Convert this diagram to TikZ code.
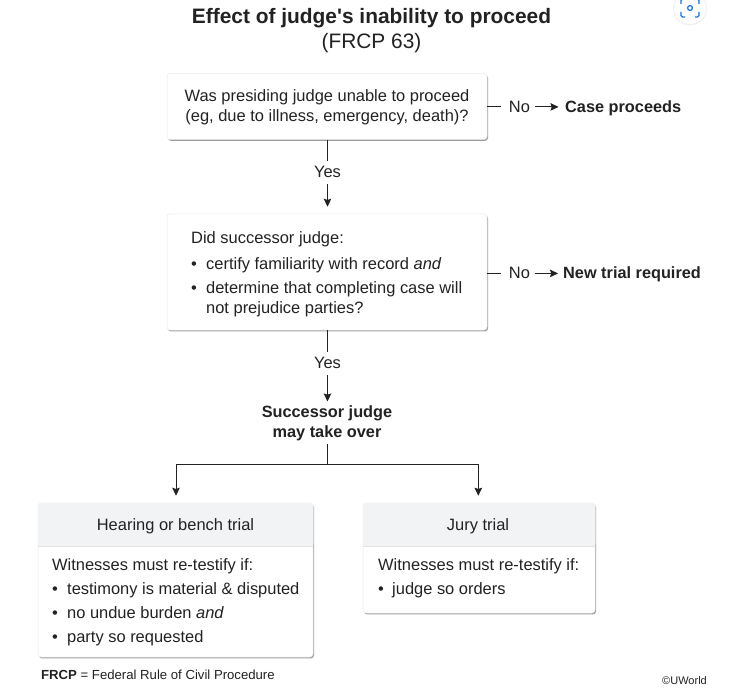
\documentclass[tikz,border=0pt]{standalone}
\usepackage{fontspec}
\setmainfont{Liberation Sans}
\usetikzlibrary{arrows.meta,shadows}
\definecolor{ink}{HTML}{222222}
\definecolor{headfill}{HTML}{F2F3F4}
\definecolor{headrule}{HTML}{E1E3E5}
\definecolor{scanblue}{HTML}{1A73E8}
\tikzset{
  x=1pt,y=-1pt,
  card/.style={draw=black!8,line width=.5pt,fill=white,rounded corners=3pt,inner sep=0pt,
    drop shadow={shadow xshift=1pt,shadow yshift=-1.4pt,fill=black,opacity=.38}},
  txt/.style={inner sep=0pt,text=ink,font=\fontsize{16.45}{19}\selectfont},
  ltxt/.style={txt,anchor=base west},
  ctxt/.style={txt,anchor=base},
  bold/.style={txt,anchor=base,font=\fontsize{16.3}{19}\selectfont\bfseries},
  link/.style={draw=ink,line width=.9pt},
  arrow/.style={link,-{Stealth[length=8pt,width=7.5pt,inset=1.2pt]}},
}
\newcommand{\bul}{\textbullet}
\begin{document}
\begin{tikzpicture}
\useasboundingbox (0,0) rectangle (738,692);
\fill[white] (0,0) rectangle (738,692);
% scan icon
\begin{scope}
\clip (0,0) rectangle (738,692);
\fill[black!6] (690,8.5) circle (17);
\fill[white] (690,8) circle (16);
\draw[scanblue,line width=1.2pt,rounded corners=1.5pt]
  (681,4) -- (681,-1) -- (685,-1)  (695,-1) -- (699,-1) -- (699,4)
  (699,12) -- (699,17) -- (695,17) (685,17) -- (681,17) -- (681,12);
\draw[scanblue,line width=1.2pt] (690,8) circle (2.4);
\end{scope}
% title
\node[inner sep=0pt,anchor=base,text=ink,font=\fontsize{20.9}{24}\selectfont\bfseries] (title) at (371.5,24) {Effect of judge\textquotesingle s inability to proceed};
\node[inner sep=0pt,anchor=base,text=ink,font=\fontsize{20.9}{24}\selectfont] (sub) at (371.5,49) {(FRCP 63)};
% boxes
\node[card,minimum width=320pt,minimum height=66pt] (box1) at (327,106.5) {};
\node[ctxt] (q1a) at (327,102) {Was presiding judge unable to proceed};
\node[ctxt] (q1b) at (327,122) {(eg, due to illness, emergency, death)?};
\node[card,minimum width=320pt,minimum height=116pt] (box2) at (327,272) {};
\node[ltxt] (q2a) at (191,244) {Did successor judge:};
\node[ltxt] (q2b) at (191,270) {\bul};
\node[ltxt] (q2c) at (206,270) {certify familiarity with record \textit{and}};
\node[ltxt] (q2d) at (191,294) {\bul};
\node[ltxt] (q2e) at (206,294) {determine that completing case will};
\node[ltxt] (q2f) at (206,313) {not prejudice parties?};
% side branches
\node[ctxt] (no1) at (519.5,112.5) {No};
\node[bold,anchor=base west] (res1) at (565,112.5) {Case proceeds};
\coordinate (no1in) at (501,106.5);
\draw[link] (box1.east) -- (no1in);
\draw[arrow] ([xshift=5pt]no1.east) -- ([xshift=-6.5pt]no1.east -| res1.west);
\node[ctxt] (no2) at (519.5,279) {No};
\node[bold,anchor=base west] (res2) at (563,279) {New trial required};
\coordinate (no2in) at (501,273);
\draw[link] (box2.east |- no2in) -- (no2in);
\draw[arrow] ([xshift=5pt]no2.east) -- ([xshift=-5pt]no2.east -| res2.west);
% down branches
\node[ctxt] (yes1) at (327.5,177.5) {Yes};
\draw[link] ([xshift=.5pt]box1.south) -- ([yshift=5pt]yes1.north);
\draw[arrow] ([yshift=-6pt]yes1.south) -- ([yshift=7pt]yes1.south |- box2.north);
\node[ctxt] (yes2) at (327.5,368.5) {Yes};
\draw[link] ([xshift=.5pt]box2.south) -- ([yshift=5pt]yes2.north);
\node[bold] (take1) at (327,417.5) {Successor judge};
\node[bold] (take2) at (327,437) {may take over};
\draw[arrow] ([yshift=-6pt]yes2.south) -- ([yshift=4pt]yes2.south |- take1.north);
% lower boxes
\node[card,minimum width=275pt,minimum height=154pt] (box3) at (175.5,580) {};
\node[card,minimum width=232pt,minimum height=110pt] (box4) at (479,558) {};
\coordinate (h3) at (38,546);
\coordinate (h4) at (363,546);
\fill[headfill,rounded corners=3pt] (h3) |- (box3.north) -| (box3.east |- h3) -- cycle;
\fill[headfill,rounded corners=3pt] (h4) |- (box4.north) -| (box4.east |- h4) -- cycle;
\fill[headfill] (h3) rectangle (box3.east |- 0,541);
\fill[headfill] (h4) rectangle (box4.east |- 0,541);
\draw[headrule,line width=.9pt] (h3) -- (box3.east |- h3);
\draw[headrule,line width=.9pt] (h4) -- (box4.east |- h4);
\node[ctxt] (h3t) at (175.5,530) {Hearing or bench trial};
\node[ctxt] (h4t) at (478,530) {Jury trial};
\node[ltxt] (w3) at (52,570.7) {Witnesses must re-testify if:};
\node[ltxt] (b31) at (52,594.7) {\bul};
\node[ltxt] (t31) at (67,594.7) {testimony is material \& disputed};
\node[ltxt] (b32) at (52,618.7) {\bul};
\node[ltxt] (t32) at (67,618.7) {no undue burden \textit{and}};
\node[ltxt] (b33) at (52,642.7) {\bul};
\node[ltxt] (t33) at (67,642.7) {party so requested};
\node[ltxt] (w4) at (378,570.7) {Witnesses must re-testify if:};
\node[ltxt] (b41) at (378,594.7) {\bul};
\node[ltxt] (t41) at (392,594.7) {judge so orders};
% split
\coordinate (split) at (327,464);
\draw[link] ([yshift=-3.5pt]take2.south) -- (split);
\draw[arrow,shorten >=7pt] (split) -| ([xshift=.5pt]box3.north);
\draw[arrow,shorten >=7pt] (split) -| ([xshift=-.7pt]box4.north);
% footers
\node[inner sep=0pt,anchor=base west,text=ink,font=\fontsize{13.15}{15}\selectfont] (foot) at (41,679) {\textbf{FRCP} = Federal Rule of Civil Procedure};
\node[inner sep=0pt,anchor=base east,text=ink,font=\fontsize{11}{13}\selectfont] (copy) at (707,684) {©UWorld};
\end{tikzpicture}
\end{document}
